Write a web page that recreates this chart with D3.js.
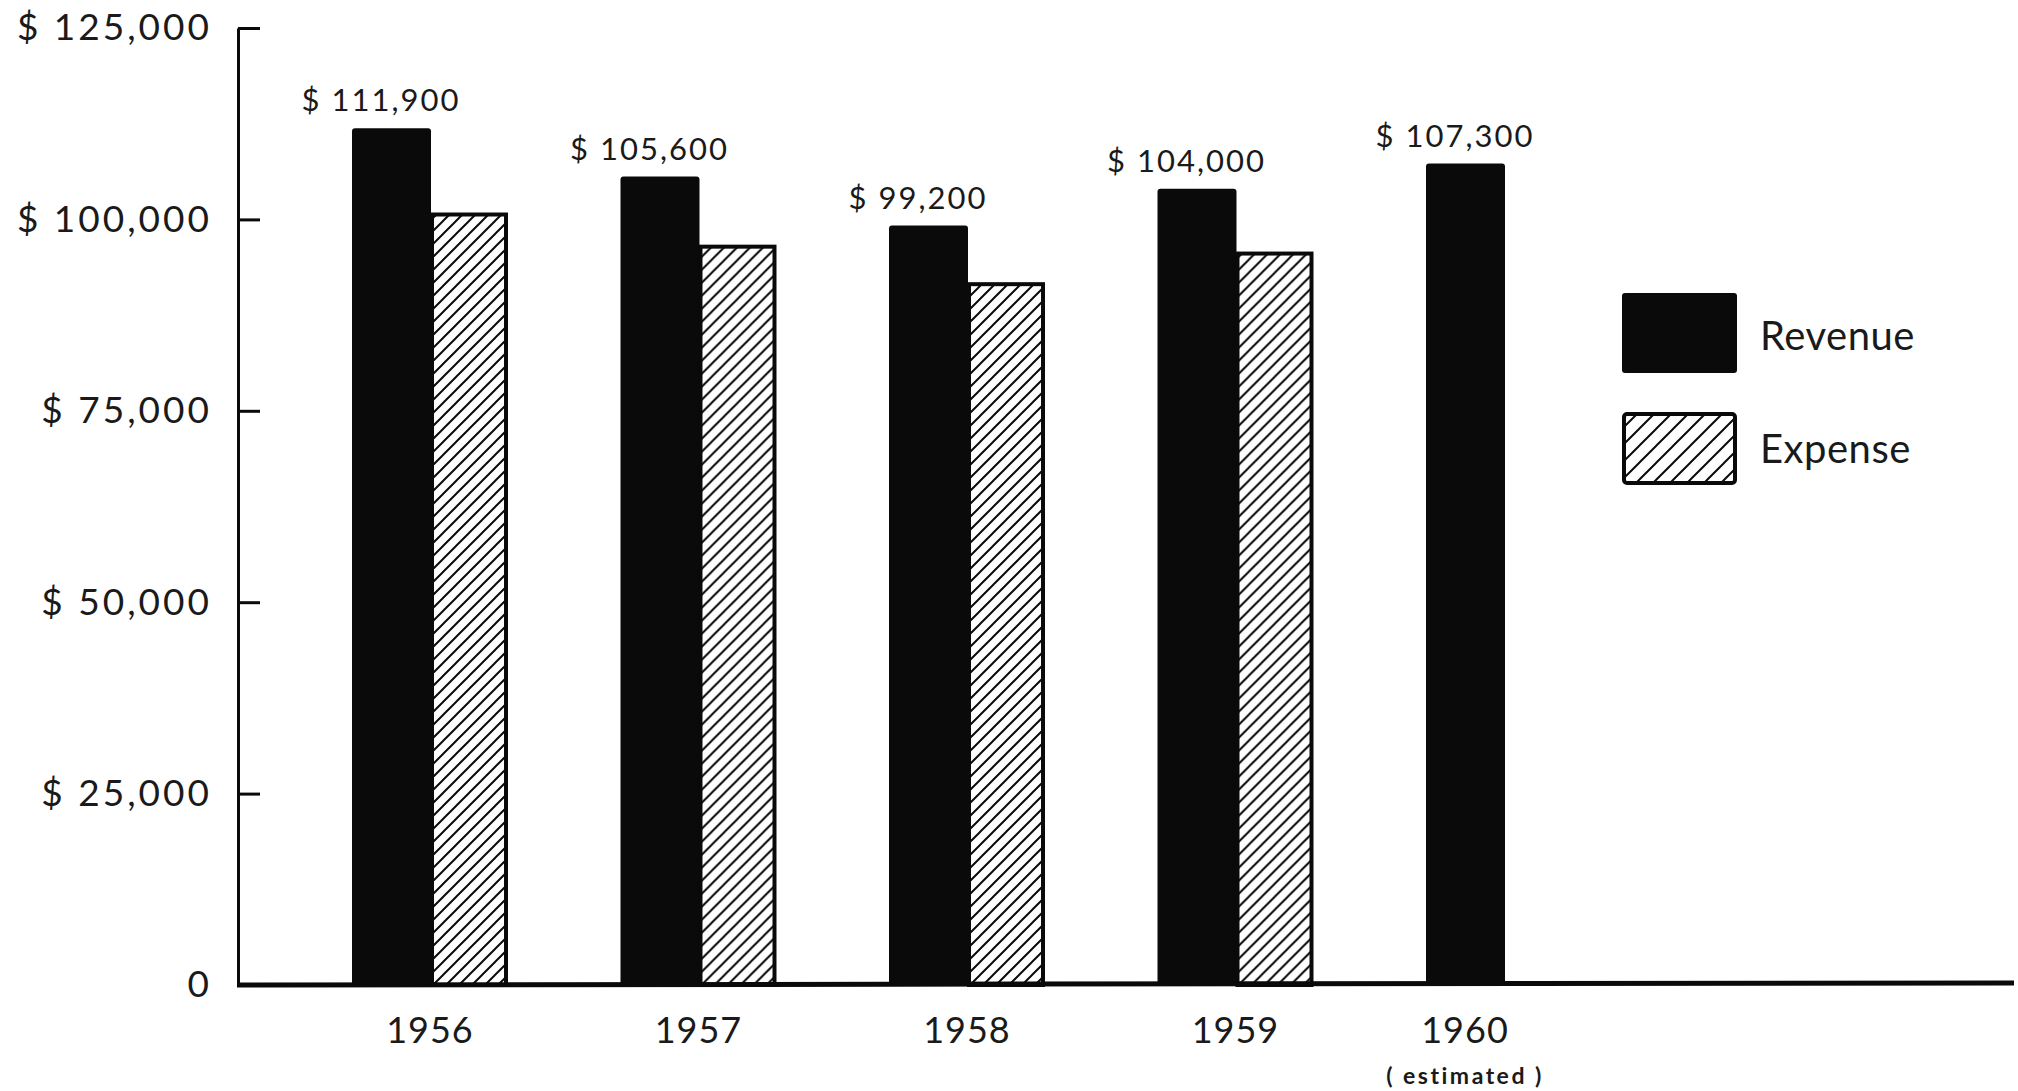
<!DOCTYPE html>
<html>
<head>
<meta charset="utf-8">
<script src="https://cdn.jsdelivr.net/npm/d3@7"></script>
<style>
  html, body { margin: 0; padding: 0; background: #fff; }
  svg { display: block; }
  text { font-family: Lato, "Noto Sans", sans-serif; fill: #1a1a1a; }
</style>
</head>
<body>
<div id="chart"></div>
<script>
// Values
var years = ['1956', '1957', '1958', '1959', '1960'];
var yearNotes = ['', '', '', '', '( estimated )'];
var revenue = [111900, 105600, 99200, 104000, 107300];
var expense = [100900, 96700, 91800, 95800, null];
var seriesNames = ['Revenue', 'Expense'];
var yTicks = [0, 25000, 50000, 75000, 100000, 125000];

// Layout constants
var W = 2018, H = 1091;
var AXIS_X = 238;
var Y_TOP = 28, Y_BOTTOM = 985;
var BASE_RIGHT = 2014;
var GROUPS_LEFT = 352, GROUPS_RIGHT = 1582;
var INK = '#0a0a0a';

var svg = d3.select('#chart').append('svg')
    .attr('width', W).attr('height', H)
    .attr('viewBox', [0, 0, W, H]);

// Hatch patterns: fine for bars, coarser for the legend key
var defs = svg.append('defs');
function hatch(id, s) {
    defs.append('pattern')
        .attr('id', id)
        .attr('patternUnits', 'userSpaceOnUse')
        .attr('width', s).attr('height', s)
        .append('path')
        .attr('d', 'M0,' + s + 'L' + s + ',0M' + (-s / 4) + ',' + (s / 4) + 'L' + (s / 4) + ',' + (-s / 4) +
            'M' + (s * 3 / 4) + ',' + (s * 5 / 4) + 'L' + (s * 5 / 4) + ',' + (s * 3 / 4))
        .attr('stroke', INK).attr('stroke-width', 2);
}
hatch('hatch', 13);
hatch('hatch-key', 17);

var y = d3.scaleLinear().domain([0, 125000]).range([Y_BOTTOM, Y_TOP]);
var x0 = d3.scaleBand().domain(years).range([GROUPS_LEFT, GROUPS_RIGHT]).paddingInner(0.419).paddingOuter(0);
var x1 = d3.scaleBand().domain(seriesNames).range([0, x0.bandwidth()]);

var money = d3.format(',');

// Y axis: ticks point inward, labels on the left
var yAxis = d3.axisLeft(y)
    .tickValues(yTicks)
    .tickSizeInner(-22)
    .tickSizeOuter(0)
    .tickPadding(26)
    .tickFormat(function (d) { return d === 0 ? '0' : '$ ' + money(d); });

var gy = svg.append('g')
    .attr('transform', 'translate(' + AXIS_X + ',0)')
    .call(yAxis);
gy.select('.domain').attr('stroke', INK).attr('stroke-width', 3);
gy.selectAll('.tick line').attr('stroke', INK).attr('stroke-width', 3);
gy.selectAll('.tick text')
    .attr('font-size', 37)
    .attr('letter-spacing', 3)
    .attr('fill', '#1a1a1a')
    .style('font-family', 'Lato, sans-serif');

// Bars
var rows = years.map(function (yr, i) {
    return { year: yr, revenue: revenue[i], expense: expense[i], note: yearNotes[i] };
});

var groups = svg.append('g').selectAll('g')
    .data(rows)
    .join('g')
    .attr('transform', function (d) { return 'translate(' + x0(d.year) + ',0)'; });

groups.append('rect')
    .attr('x', x1('Revenue'))
    .attr('y', function (d) { return y(d.revenue); })
    .attr('width', x1.bandwidth() + 1)
    .attr('height', function (d) { return y(0) - y(d.revenue); })
    .attr('rx', 3)
    .attr('fill', INK);

groups.filter(function (d) { return d.expense != null; })
    .append('rect')
    .attr('x', x1('Expense') + 2)
    .attr('y', function (d) { return y(d.expense) + 2; })
    .attr('width', x1.bandwidth() - 4)
    .attr('height', function (d) { return y(0) - y(d.expense) - 2; })
    .attr('fill', 'url(#hatch)')
    .attr('stroke', INK)
    .attr('stroke-width', 4);

// Revenue value labels
groups.append('text')
    .attr('x', x1('Revenue') + x1.bandwidth() / 2 - 10)
    .attr('y', function (d) { return y(d.revenue) - 17; })
    .attr('text-anchor', 'middle')
    .attr('font-size', 31)
    .attr('letter-spacing', 2)
    .text(function (d) { return '$ ' + money(d.revenue); });

// Year labels (centred on the group, or on the lone bar)
function labelX(d) {
    return d.expense != null ? x0.bandwidth() / 2 : x1('Revenue') + x1.bandwidth() / 2;
}
groups.append('text')
    .attr('x', labelX)
    .attr('y', 1043)
    .attr('text-anchor', 'middle')
    .attr('font-size', 36)
    .attr('letter-spacing', 1)
    .text(function (d) { return d.year; });

groups.filter(function (d) { return d.note; })
    .append('text')
    .attr('x', labelX)
    .attr('y', 1084)
    .attr('text-anchor', 'middle')
    .attr('font-size', 23)
    .attr('font-weight', 'bold')
    .attr('letter-spacing', 2.5)
    .text(function (d) { return d.note; });

// Baseline
svg.append('line')
    .attr('x1', AXIS_X - 1).attr('x2', BASE_RIGHT)
    .attr('y1', y(0)).attr('y2', y(0) - 2)
    .attr('stroke', INK).attr('stroke-width', 5);

// Legend
var legend = svg.append('g').attr('transform', 'translate(1622,293)');
var keys = legend.selectAll('g')
    .data(seriesNames)
    .join('g')
    .attr('transform', function (d, i) { return 'translate(0,' + (i * 119) + ')'; });

keys.append('rect')
    .attr('x', function (d) { return d === 'Expense' ? 2 : 0; })
    .attr('y', function (d) { return d === 'Expense' ? 2 : 0; })
    .attr('width', function (d) { return d === 'Expense' ? 111 : 115; })
    .attr('height', function (d) { return d === 'Expense' ? 69 : 80; })
    .attr('rx', 3)
    .attr('fill', function (d) { return d === 'Expense' ? 'url(#hatch-key)' : INK; })
    .attr('stroke', function (d) { return d === 'Expense' ? INK : 'none'; })
    .attr('stroke-width', 4);

keys.append('text')
    .attr('x', 138)
    .attr('y', function (d) { return d === 'Expense' ? 51 : 57; })
    .attr('font-size', 40)
    .attr('letter-spacing', 0.5)
    .text(function (d) { return d; });
</script>
</body>
</html>
